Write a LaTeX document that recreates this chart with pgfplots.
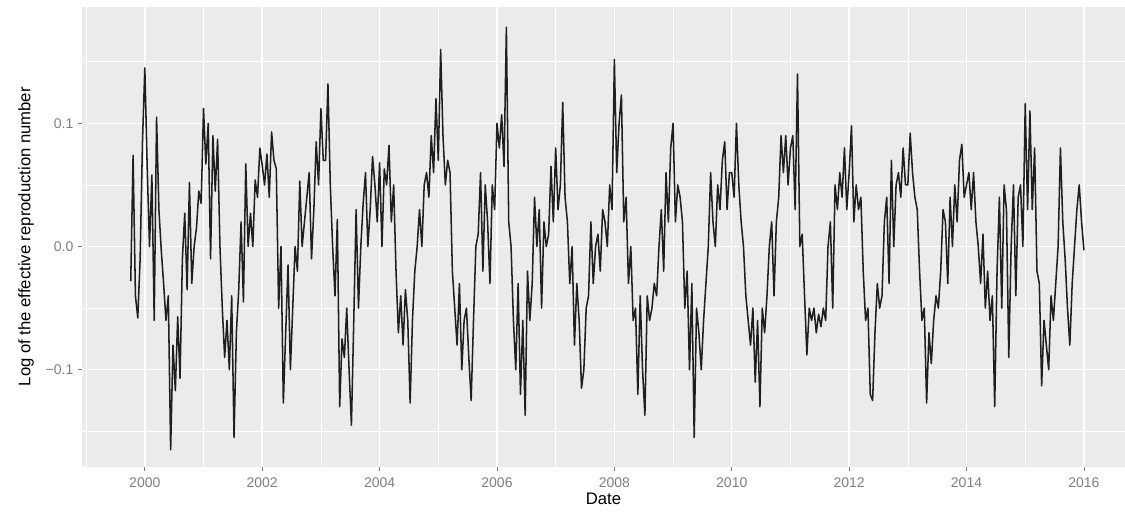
\documentclass[border=0pt]{standalone}
\usepackage{pgfplots}
\pgfplotsset{compat=1.18}
\usepackage{fontspec}
\setmainfont{Liberation Sans}
\definecolor{panel}{HTML}{EBEBEB}
\definecolor{ticklab}{HTML}{7F7F7F}
\definecolor{tickc}{HTML}{7F7F7F}
\begin{document}
\begin{tikzpicture}
\begin{axis}[
  at={(0,0)}, anchor=south west,
  scale only axis, width=782pt, height=345pt,
  xmin=1998.93, xmax=2016.7, ymin=-0.1788, ymax=0.1947,
  axis background/.style={fill=panel},
  axis line style={draw=none},
  grid=both,
  major grid style={white, line width=1.1pt},
  minor grid style={white, line width=0.5pt},
  xtick={2000,2002,...,2016},
  minor xtick={1999,2001,...,2015},
  ytick={-0.1,0,0.1},
  yticklabels={−0.1,0.0,0.1},
  minor ytick={-0.15,-0.05,0.05,0.15},
  xticklabel style={/pgf/number format/1000 sep={}, yshift=-2pt},
  /pgf/number format/assume math mode=true,
  tick label style={font=\fontsize{10.5}{12}\selectfont, text=ticklab},
  major tick length=3pt, minor tick length=0pt,
  tick align=outside, tick pos=left,
  major tick style={tickc, line width=0.5pt},
  xlabel={Date}, ylabel={Log of the effective reproduction number},
  label style={font=\fontsize{12.5}{14}\selectfont},
  xlabel style={yshift=3pt},
  ylabel style={yshift=2pt},
  clip=true,
]
\addplot[color=black!88, line width=1.15pt, line join=round] coordinates {
(1999.76,-0.028)(1999.80,0.074)(1999.84,-0.04)(1999.88,-0.058)(1999.92,-0.01)(1999.96,0.085)
(2000.00,0.145)(2000.04,0.065)(2000.08,0.0)(2000.12,0.058)(2000.16,-0.06)(2000.20,0.105)(2000.24,0.03)(2000.28,-0.003)(2000.32,-0.03)(2000.36,-0.06)(2000.40,-0.04)(2000.44,-0.165)(2000.48,-0.08)(2000.52,-0.117)(2000.56,-0.057)(2000.60,-0.107)(2000.64,-0.01)(2000.68,0.027)(2000.72,-0.035)(2000.76,0.052)(2000.80,-0.03)(2000.84,0.0)(2000.88,0.015)(2000.92,0.045)(2000.96,0.035)
(2001.00,0.112)(2001.04,0.067)(2001.08,0.1)(2001.12,-0.01)(2001.16,0.09)(2001.20,0.045)(2001.24,0.087)(2001.28,0.0)(2001.32,-0.05)(2001.36,-0.09)(2001.40,-0.06)(2001.44,-0.1)(2001.48,-0.04)(2001.52,-0.155)(2001.56,-0.07)(2001.60,-0.035)(2001.64,0.02)(2001.68,-0.045)(2001.72,0.067)(2001.76,0.0)(2001.80,0.027)(2001.84,0.0)(2001.88,0.054)(2001.92,0.04)(2001.96,0.08)
(2002.00,0.066)(2002.04,0.05)(2002.08,0.075)(2002.12,0.04)(2002.16,0.093)(2002.20,0.07)(2002.24,0.063)(2002.28,-0.05)(2002.32,0.0)(2002.36,-0.127)(2002.40,-0.07)(2002.44,-0.015)(2002.48,-0.1)(2002.52,-0.05)(2002.56,0.0)(2002.60,-0.02)(2002.64,0.053)(2002.68,0.0)(2002.72,0.02)(2002.76,0.04)(2002.80,0.06)(2002.84,-0.01)(2002.88,0.03)(2002.92,0.085)(2002.96,0.05)
(2003.00,0.112)(2003.04,0.07)(2003.08,0.07)(2003.12,0.132)(2003.16,0.05)(2003.20,0.0)(2003.24,-0.04)(2003.28,0.022)(2003.32,-0.13)(2003.36,-0.075)(2003.40,-0.09)(2003.44,-0.05)(2003.48,-0.1)(2003.52,-0.145)(2003.56,-0.06)(2003.60,0.03)(2003.64,-0.05)(2003.68,0.0)(2003.72,0.035)(2003.76,0.06)(2003.80,0.0)(2003.84,0.03)(2003.88,0.073)(2003.92,0.05)(2003.96,0.02)
(2004.00,0.068)(2004.04,0.0)(2004.08,0.063)(2004.12,0.05)(2004.16,0.082)(2004.20,0.02)(2004.24,0.05)(2004.28,-0.02)(2004.32,-0.07)(2004.36,-0.04)(2004.40,-0.08)(2004.44,-0.035)(2004.48,-0.06)(2004.52,-0.127)(2004.56,-0.06)(2004.60,-0.02)(2004.64,0.0)(2004.68,0.03)(2004.72,0.0)(2004.76,0.05)(2004.80,0.06)(2004.84,0.04)(2004.88,0.09)(2004.92,0.06)(2004.96,0.12)
(2005.00,0.07)(2005.04,0.16)(2005.08,0.09)(2005.12,0.05)(2005.16,0.07)(2005.20,0.06)(2005.24,-0.02)(2005.28,-0.05)(2005.32,-0.08)(2005.36,-0.03)(2005.40,-0.1)(2005.44,-0.06)(2005.48,-0.05)(2005.52,-0.09)(2005.56,-0.125)(2005.60,-0.06)(2005.64,0.0)(2005.68,0.01)(2005.72,0.06)(2005.76,-0.02)(2005.80,0.05)(2005.84,0.02)(2005.88,-0.03)(2005.92,0.05)(2005.96,0.03)
(2006.00,0.1)(2006.04,0.08)(2006.08,0.107)(2006.12,0.065)(2006.16,0.178)(2006.20,0.02)(2006.24,0.0)(2006.28,-0.06)(2006.32,-0.1)(2006.36,-0.03)(2006.40,-0.12)(2006.44,-0.06)(2006.48,-0.137)(2006.52,-0.02)(2006.56,-0.06)(2006.60,-0.03)(2006.64,0.04)(2006.68,0.0)(2006.72,0.03)(2006.76,-0.05)(2006.80,0.02)(2006.84,0.0)(2006.88,0.01)(2006.92,0.065)(2006.96,0.02)
(2007.00,0.08)(2007.04,0.03)(2007.08,0.05)(2007.12,0.117)(2007.16,0.04)(2007.20,0.02)(2007.24,-0.03)(2007.28,0.0)(2007.32,-0.08)(2007.36,-0.03)(2007.40,-0.06)(2007.44,-0.115)(2007.48,-0.1)(2007.52,-0.05)(2007.56,-0.04)(2007.60,0.02)(2007.64,-0.03)(2007.68,0.0)(2007.72,0.01)(2007.76,-0.02)(2007.80,0.03)(2007.84,0.02)(2007.88,0.0)(2007.92,0.05)(2007.96,0.03)
(2008.00,0.152)(2008.04,0.06)(2008.08,0.1)(2008.12,0.123)(2008.16,0.02)(2008.20,0.04)(2008.24,-0.03)(2008.28,0.0)(2008.32,-0.06)(2008.36,-0.05)(2008.40,-0.12)(2008.44,-0.04)(2008.48,-0.1)(2008.52,-0.137)(2008.56,-0.04)(2008.60,-0.06)(2008.64,-0.05)(2008.68,-0.03)(2008.72,-0.04)(2008.76,0.0)(2008.80,0.03)(2008.84,-0.02)(2008.88,0.06)(2008.92,0.02)(2008.96,0.08)
(2009.00,0.1)(2009.04,0.02)(2009.08,0.05)(2009.12,0.04)(2009.16,0.02)(2009.20,-0.05)(2009.24,-0.02)(2009.28,-0.1)(2009.32,-0.03)(2009.36,-0.155)(2009.40,-0.05)(2009.44,-0.07)(2009.48,-0.1)(2009.52,-0.06)(2009.56,-0.03)(2009.60,0.0)(2009.64,0.06)(2009.68,0.02)(2009.72,0.0)(2009.76,0.05)(2009.80,0.03)(2009.84,0.07)(2009.88,0.085)(2009.92,0.03)(2009.96,0.06)
(2010.00,0.06)(2010.04,0.04)(2010.08,0.1)(2010.12,0.05)(2010.16,0.02)(2010.20,0.0)(2010.24,-0.04)(2010.28,-0.06)(2010.32,-0.08)(2010.36,-0.05)(2010.40,-0.11)(2010.44,-0.06)(2010.48,-0.13)(2010.52,-0.05)(2010.56,-0.07)(2010.60,-0.04)(2010.64,0.0)(2010.68,0.02)(2010.72,-0.04)(2010.76,0.02)(2010.80,0.04)(2010.84,0.09)(2010.88,0.06)(2010.92,0.09)(2010.96,0.05)
(2011.00,0.08)(2011.04,0.09)(2011.08,0.03)(2011.12,0.14)(2011.16,0.0)(2011.20,0.01)(2011.24,-0.04)(2011.28,-0.088)(2011.32,-0.05)(2011.36,-0.06)(2011.40,-0.05)(2011.44,-0.07)(2011.48,-0.055)(2011.52,-0.065)(2011.56,-0.05)(2011.60,-0.06)(2011.64,0.0)(2011.68,0.02)(2011.72,-0.05)(2011.76,0.05)(2011.80,0.03)(2011.84,0.06)(2011.88,0.04)(2011.92,0.08)(2011.96,0.03)
(2012.00,0.06)(2012.04,0.098)(2012.08,0.02)(2012.12,0.05)(2012.16,0.03)(2012.20,0.04)(2012.24,-0.02)(2012.28,-0.06)(2012.32,-0.05)(2012.36,-0.12)(2012.40,-0.125)(2012.44,-0.07)(2012.48,-0.03)(2012.52,-0.05)(2012.56,-0.04)(2012.60,0.02)(2012.64,0.04)(2012.68,-0.03)(2012.72,0.07)(2012.76,0.0)(2012.80,0.05)(2012.84,0.06)(2012.88,0.04)(2012.92,0.08)(2012.96,0.05)
(2013.00,0.05)(2013.04,0.092)(2013.08,0.06)(2013.12,0.04)(2013.16,0.03)(2013.20,-0.02)(2013.24,-0.06)(2013.28,-0.05)(2013.32,-0.127)(2013.36,-0.07)(2013.40,-0.095)(2013.44,-0.06)(2013.48,-0.04)(2013.52,-0.05)(2013.56,-0.02)(2013.60,0.03)(2013.64,0.02)(2013.68,-0.03)(2013.72,0.04)(2013.76,0.0)(2013.80,0.05)(2013.84,0.02)(2013.88,0.07)(2013.92,0.083)(2013.96,0.04)
(2014.00,0.05)(2014.04,0.06)(2014.08,0.03)(2014.12,0.06)(2014.16,0.02)(2014.20,0.0)(2014.24,-0.03)(2014.28,0.01)(2014.32,-0.05)(2014.36,-0.02)(2014.40,-0.06)(2014.44,-0.04)(2014.48,-0.13)(2014.52,-0.02)(2014.56,0.04)(2014.60,-0.05)(2014.64,0.05)(2014.68,0.03)(2014.72,-0.09)(2014.76,0.0)(2014.80,0.05)(2014.84,-0.04)(2014.88,0.04)(2014.92,0.05)(2014.96,0.0)
(2015.00,0.116)(2015.04,0.03)(2015.08,0.11)(2015.12,0.03)(2015.16,0.08)(2015.20,-0.02)(2015.24,-0.03)(2015.28,-0.113)(2015.32,-0.06)(2015.36,-0.08)(2015.40,-0.1)(2015.44,-0.04)(2015.48,-0.06)(2015.52,-0.03)(2015.56,0.0)(2015.60,0.08)(2015.64,0.02)(2015.68,-0.01)(2015.72,-0.05)(2015.76,-0.08)(2015.80,-0.03)(2015.84,0.0)(2015.88,0.03)(2015.92,0.05)(2015.96,0.02)
(2016.00,-0.003)
};
\end{axis}
\pgfresetboundingbox
\path (-61.5pt,-43pt) rectangle (782pt,350pt);
\end{tikzpicture}
\end{document}
